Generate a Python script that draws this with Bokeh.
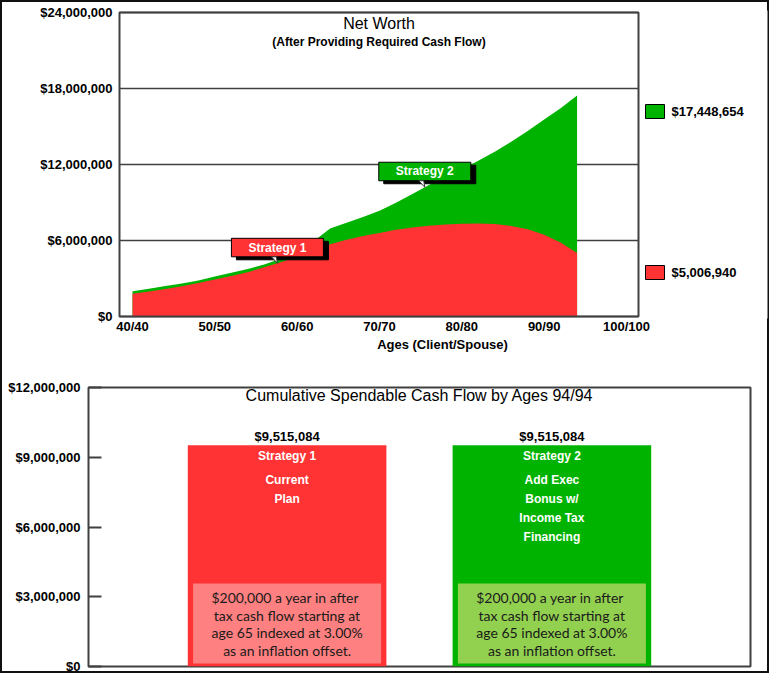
import numpy as np
from bokeh.plotting import figure
from bokeh.models import (FixedTicker, Range1d, NumeralTickFormatter)
from bokeh.layouts import column
from bokeh.embed import file_html
from bokeh.resources import INLINE
from bokeh.core.properties import value

# ---------------- data ----------------
ages = [40, 42, 44, 46, 48, 50, 52, 54, 56, 58, 60, 62, 64, 66, 68, 70,
        72, 74, 76, 78, 80, 82, 84, 86, 88, 90, 92, 94]
strategy2_net_worth = [2_000_000, 2_200_000, 2_400_000, 2_600_000, 2_850_000, 3_150_000,
                       3_450_000, 3_750_000, 4_100_000, 4_550_000, 5_150_000, 5_950_000,
                       6_950_000, 7_400_000, 7_850_000, 8_350_000, 8_980_000, 9_680_000,
                       10_380_000, 11_000_000, 11_620_000, 12_300_000, 13_000_000,
                       13_800_000, 14_650_000, 15_550_000, 16_450_000, 17_448_654]
strategy1_net_worth = [1_800_000, 1_980_000, 2_170_000, 2_390_000, 2_650_000, 2_920_000,
                       3_200_000, 3_500_000, 3_880_000, 4_280_000, 4_720_000, 5_200_000,
                       5_700_000, 6_050_000, 6_350_000, 6_600_000, 6_850_000, 7_030_000,
                       7_170_000, 7_270_000, 7_330_000, 7_350_000, 7_300_000, 7_150_000,
                       6_880_000, 6_450_000, 5_850_000, 5_006_940]
age_ticks = [40, 50, 60, 70, 80, 90, 100]
age_tick_labels = ["40/40", "50/50", "60/60", "70/70", "80/80", "90/90", "100/100"]
nw_ticks = [0, 6_000_000, 12_000_000, 18_000_000, 24_000_000]

callout_labels = ["Strategy 1", "Strategy 2"]
callout_ages = [57.6, 75.5]

strategies = ["Strategy 1", "Strategy 2"]
cumulative_cash_flow = [9_515_084, 9_515_084]
strategy_descriptions = [["Current", "Plan"], ["Add Exec", "Bonus w/", "Income Tax", "Financing"]]
cf_ticks = [0, 3_000_000, 6_000_000, 9_000_000, 12_000_000]
note_lines = ["$200,000  a year in after", "tax cash flow starting at",
              "age 65 indexed at 3.00%", "as an inflation offset."]

# ---------------- styles ----------------
RED = "#FF3333"
GREEN = "#00B300"
PALE_RED = "#FF8080"
PALE_GREEN = "#92D050"
FRAME = "#404040"
FONT = "Liberation Sans"

# ---------------- top chart ----------------
# chart box (visible frame) spans ages X0..X1 and $0..$24M, 519 x 304 px
X0, X1 = 38.42, 101.46
Y1 = 24_000_000
px_x = (X1 - X0) / 519          # years per pixel
px_y = Y1 / 304                 # dollars per pixel
PAD = 2                         # px of padding so the box line is not clipped
XR = X0 + (767 - 119) * px_x    # canvas frame extends to the right for the value boxes

p1 = figure(width=769, height=355,
            x_range=Range1d(X0 - PAD * px_x, XR), y_range=Range1d(-PAD * px_y, Y1 + PAD * px_y),
            output_backend="svg", toolbar_location=None,
            min_border_left=119 - PAD, min_border_right=2, min_border_top=12 - PAD,
            min_border_bottom=39 - PAD)
p1.frame_align = False
p1.border_fill_color = None
p1.outline_line_color = None
p1.background_fill_color = "white"
p1.grid.grid_line_color = None
p1.styles = {"box-shadow": "inset 0 2px 0 0 #111111, inset 2px 0 0 0 #111111, inset -2px 0 0 0 #111111"}

p1.yaxis.ticker = FixedTicker(ticks=nw_ticks)
p1.yaxis.formatter = NumeralTickFormatter(format="$0,0")
p1.xaxis.ticker = FixedTicker(ticks=age_ticks)
p1.xaxis.major_label_overrides = {t: l for t, l in zip(age_ticks, age_tick_labels)}
p1.xaxis.axis_label = "Ages (Client/Spouse)"
p1.xaxis.bounds = (X0, X1)
for ax in (p1.xaxis, p1.yaxis):
    ax.axis_line_color = None
    ax.major_tick_line_color = None
    ax.minor_tick_line_color = None
    ax.major_tick_out = 0
    ax.major_tick_in = 0
    ax.major_label_text_font = FONT
    ax.major_label_text_font_style = "bold"
    ax.major_label_text_font_size = "13px"
    ax.major_label_text_color = "black"
p1.yaxis.major_label_standoff = 7 - PAD
p1.xaxis.major_label_standoff = 0
p1.xaxis.axis_label_standoff = 0
p1.xaxis.axis_label_text_font = FONT
p1.xaxis.axis_label_text_font_style = "bold"
p1.xaxis.axis_label_text_font_size = "13px"
p1.xaxis.axis_label_text_color = "black"

# horizontal grid lines (under the areas)
p1.segment(x0=[X0] * len(nw_ticks), x1=[X1] * len(nw_ticks), y0=nw_ticks, y1=nw_ticks,
           line_color=FRAME, line_width=1.5)

p1.varea(x=ages, y1=0, y2=strategy2_net_worth, fill_color=GREEN)
p1.varea(x=ages, y1=0, y2=strategy1_net_worth, fill_color=RED)

# chart box
p1.quad(left=[X0], right=[X1], bottom=[0], top=[Y1], fill_color=None, line_color=FRAME, line_width=2)

xmid = (X0 + X1) / 2
p1.text(x=[xmid], y=[Y1], text=["Net Worth"], text_align="center", text_baseline="middle",
        y_offset=11, text_font=value(FONT), text_font_size="16px", text_color="black")
p1.text(x=[xmid], y=[Y1], text=["(After Providing Required Cash Flow)"], text_align="center",
        text_baseline="middle", y_offset=29, text_font=value(FONT), text_font_style="bold",
        text_font_size="12px", text_color="black")

# callouts
series_for_callout = [strategy1_net_worth, strategy2_net_worth]
fills = [RED, GREEN]
for lab, a, ser, fc in zip(callout_labels, callout_ages, series_for_callout, fills):
    ty = float(np.interp(a, ages, ser))
    left = a - 46 * px_x
    right = a + 46 * px_x
    bottom = ty + 6.5 * px_y
    top = bottom + 18.5 * px_y
    p1.quad(left=[left + 5 * px_x], right=[right + 5 * px_x], bottom=[bottom - 3 * px_y],
            top=[top - 3 * px_y], fill_color="black", line_color="black")
    p1.quad(left=[left], right=[right], bottom=[bottom], top=[top], fill_color=fc,
            line_color="black", line_width=1)
    p1.patch(x=[a - 6 * px_x, a - 1 * px_x, a], y=[bottom, bottom, ty], fill_color="white",
             line_color="#333333", line_width=1)
    p1.text(x=[(left + right) / 2], y=[(top + bottom) / 2], text=[lab], text_align="center",
            text_baseline="middle", text_font=value(FONT), text_font_style="bold",
            text_font_size="12px", text_color="white")

# end-value keys to the right of the chart box
key_values = [strategy2_net_worth[-1], strategy1_net_worth[-1]]
key_colors = [GREEN, RED]
key_top_px = [92, 253]          # px below the chart top
key_left = X1 + 7 * px_x
key_right = key_left + 19 * px_x
for v, c, tpx in zip(key_values, key_colors, key_top_px):
    kt = Y1 - tpx * px_y
    kb = kt - 14 * px_y
    p1.quad(left=[key_left], right=[key_right], bottom=[kb], top=[kt], fill_color=c,
            line_color="black", line_width=1)
    p1.text(x=[key_right + 7 * px_x], y=[(kt + kb) / 2], text=[f"${v:,.0f}"], text_align="left",
            text_baseline="middle", text_font=value(FONT), text_font_style="bold",
            text_font_size="13px", text_color="black")

# ---------------- bottom chart ----------------
FH2 = 279
p2 = figure(width=769, height=318, x_range=Range1d(0, 1), y_range=Range1d(0, 12_000_000),
            output_backend="svg", toolbar_location=None, x_axis_location=None,
            min_border_left=88, min_border_right=19, min_border_top=32, min_border_bottom=7)
p2.frame_align = False
p2.border_fill_color = None
p2.background_fill_color = "white"
p2.styles = {"box-shadow": "inset 0 -2px 0 0 #111111, inset 2px 0 0 0 #111111, inset -2px 0 0 0 #111111"}
p2.outline_line_color = FRAME
p2.outline_line_width = 2
p2.grid.grid_line_color = None
p2.yaxis.ticker = FixedTicker(ticks=cf_ticks)
p2.yaxis.formatter = NumeralTickFormatter(format="$0,0")
p2.yaxis.axis_line_color = None
p2.yaxis.major_tick_in = 13
p2.yaxis.major_tick_out = 0
p2.yaxis.major_tick_line_color = FRAME
p2.yaxis.major_tick_line_width = 2
p2.yaxis.minor_tick_line_color = None
p2.yaxis.major_label_standoff = 8
p2.yaxis.major_label_text_font = FONT
p2.yaxis.major_label_text_font_style = "bold"
p2.yaxis.major_label_text_font_size = "13px"
p2.yaxis.major_label_text_color = "black"

bar_x = [0.3, 0.7]
bar_w = 0.3
p2.vbar(x=bar_x, width=bar_w, top=cumulative_cash_flow, bottom=0, fill_color=[RED, GREEN], line_color=None)

p2.text(x=[0.5], y=[12_000_000], text=["Cumulative Spendable Cash Flow by Ages 94/94"],
        text_align="center", text_baseline="middle", y_offset=8, text_font=value(FONT),
        text_font_size="16px", text_color="black")

p2.text(x=bar_x, y=cumulative_cash_flow, text=[f"${v:,.0f}" for v in cumulative_cash_flow],
        text_align="center", text_baseline="bottom", y_offset=-1, text_font=value(FONT),
        text_font_style="bold", text_font_size="13px", text_color="black")
p2.text(x=bar_x, y=cumulative_cash_flow, text=strategies, text_align="center",
        text_baseline="middle", y_offset=11, text_font=value(FONT), text_font_style="bold",
        text_font_size="12px", text_color="white")
for bx, v, desc in zip(bar_x, cumulative_cash_flow, strategy_descriptions):
    for i, line in enumerate(desc):
        p2.text(x=[bx], y=[v], text=[line], text_align="center", text_baseline="middle",
                y_offset=35 + 19 * i, text_font=value(FONT), text_font_style="bold",
                text_font_size="12px", text_color="white")

py2 = 12_000_000 / FH2
box_half = 0.142
box_bottom = 3 * py2
box_top = 83 * py2
for bx, pc in zip(bar_x, [PALE_RED, PALE_GREEN]):
    p2.quad(left=[bx - box_half], right=[bx + box_half], bottom=[box_bottom], top=[box_top],
            fill_color=pc, line_color=None)
    for i, line in enumerate(note_lines):
        p2.text(x=[bx], y=[box_top], text=[line], text_align="center", text_baseline="middle",
                y_offset=14 + 17.7 * i, text_font=value("Lato"), text_font_size="14px",
                text_color="#1a1a1a")

layout = column(p1, p2, spacing=0)

open("out.html", "w").write(file_html(layout, INLINE))
